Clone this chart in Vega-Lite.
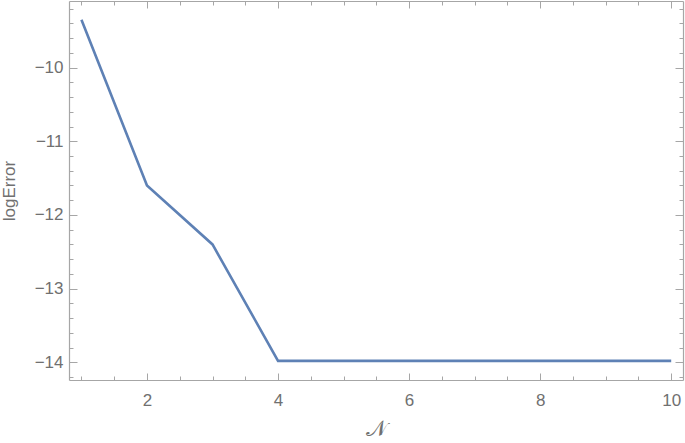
{
  "$schema": "https://vega.github.io/schema/vega-lite/v6.json",
  "autosize": "none",
  "width": 614,
  "height": 379,
  "padding": {"left": 69, "top": 1, "right": 2, "bottom": 63},
  "background": "white",
  "config": {
    "view": {"stroke": null},
    "axis": {
      "domainColor": "#a6a6a6",
      "domainWidth": 1.2,
      "tickColor": "#a6a6a6",
      "tickWidth": 1,
      "grid": false,
      "labelColor": "#707070",
      "labelFont": "Liberation Sans",
      "labelFontSize": 17,
      "titleColor": "#707070",
      "titleFont": "Liberation Sans",
      "titleFontSize": 17,
      "titleFontWeight": "normal"
    }
  },
  "data": {
    "values": [
      {"N": 1, "logError": -9.35},
      {"N": 2, "logError": -11.6},
      {"N": 3, "logError": -12.4},
      {"N": 4, "logError": -13.98},
      {"N": 5, "logError": -13.98},
      {"N": 6, "logError": -13.98},
      {"N": 7, "logError": -13.98},
      {"N": 8, "logError": -13.98},
      {"N": 9, "logError": -13.98},
      {"N": 10, "logError": -13.98}
    ]
  },
  "resolve": {"axis": {"x": "independent", "y": "independent"}},
  "layer": [
    {
      "mark": {"type": "line", "color": "#5e81b5", "strokeWidth": 2.6},
      "encoding": {
        "x": {
          "field": "N",
          "type": "quantitative",
          "scale": {"domain": [0.81, 10.18], "nice": false, "zero": false},
          "axis": {
            "orient": "bottom",
            "title": "𝒩",
            "titleFont": "DejaVu Sans",
            "titleFontSize": 22,
            "titlePadding": 10,
            "values": [1, 1.5, 2, 2.5, 3, 3.5, 4, 4.5, 5, 5.5, 6, 6.5, 7, 7.5, 8, 8.5, 9, 9.5, 10],
            "labelExpr": "datum.value % 2 == 0 ? datum.value : ''",
            "tickSize": {"condition": {"test": "datum.value % 2 == 0", "value": -7}, "value": -4},
            "labelPadding": 19,
            "labelFlush": false
          }
        },
        "y": {
          "field": "logError",
          "type": "quantitative",
          "scale": {"domain": [-14.24, -9.096], "nice": false, "zero": false},
          "axis": {
            "orient": "left",
            "title": "logError",
            "titlePadding": 16,
            "values": [-14.2, -14, -13.8, -13.6, -13.4, -13.2, -13, -12.8, -12.6, -12.4, -12.2, -12, -11.8, -11.6, -11.4, -11.2, -11, -10.8, -10.6, -10.4, -10.2, -10, -9.8, -9.6, -9.4, -9.2],
            "labelExpr": "abs(datum.value - round(datum.value)) < 0.001 ? replace(format(datum.value, 'd'), '-', '−') : ''",
            "tickSize": {"condition": {"test": "abs(datum.value - round(datum.value)) < 0.001", "value": -8}, "value": -4},
            "labelPadding": 14,
            "labelFlush": false
          }
        }
      }
    },
    {
      "mark": {"type": "line", "opacity": 0},
      "encoding": {
        "x": {
          "field": "N",
          "type": "quantitative",
          "axis": {
            "orient": "top",
            "title": null,
            "labels": false,
            "values": [1, 1.5, 2, 2.5, 3, 3.5, 4, 4.5, 5, 5.5, 6, 6.5, 7, 7.5, 8, 8.5, 9, 9.5, 10],
            "tickSize": {"condition": {"test": "datum.value % 2 == 0", "value": -7}, "value": -4}
          }
        },
        "y": {
          "field": "logError",
          "type": "quantitative",
          "axis": {
            "orient": "right",
            "title": null,
            "labels": false,
            "values": [-14.2, -14, -13.8, -13.6, -13.4, -13.2, -13, -12.8, -12.6, -12.4, -12.2, -12, -11.8, -11.6, -11.4, -11.2, -11, -10.8, -10.6, -10.4, -10.2, -10, -9.8, -9.6, -9.4, -9.2],
            "tickSize": {"condition": {"test": "abs(datum.value - round(datum.value)) < 0.001", "value": -8}, "value": -4}
          }
        }
      }
    }
  ]
}
